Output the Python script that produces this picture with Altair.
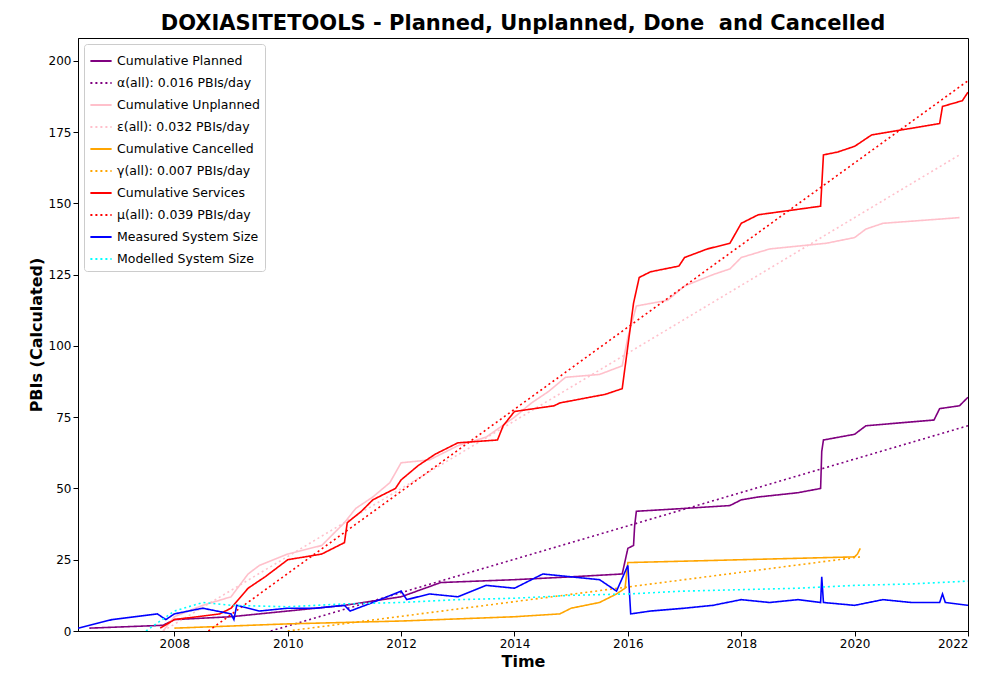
import altair as alt
import pandas as pd

# series as (year, value) points
planned_x = [2006.5, 2007.8, 2008.0, 2009.0, 2010.0, 2011.0, 2012.0, 2012.7, 2014.0, 2015.0, 2015.9, 2016.0, 2016.1, 2016.12, 2016.15, 2017.0, 2017.8, 2018.0, 2018.3, 2019.0, 2019.4, 2019.42, 2019.45, 2020.0, 2020.2, 2021.4, 2021.5, 2021.85, 2022.0]
planned_y = [1, 2, 4, 5, 7, 9, 12, 17, 18, 19, 20, 29, 30, 37, 42, 43, 44, 46, 47, 48.5, 50, 63, 67, 69, 72, 74, 78, 79, 82]

unplanned_x = [2007.8, 2008.0, 2008.5, 2009.0, 2009.3, 2009.5, 2010.0, 2010.6, 2011.0, 2011.2, 2011.5, 2011.8, 2012.0, 2012.5, 2013.0, 2013.5, 2014.0, 2014.3, 2014.6, 2014.9, 2015.5, 2015.9, 2016.0, 2016.15, 2016.7, 2017.0, 2017.5, 2017.8, 2018.0, 2018.5, 2019.5, 2020.0, 2020.2, 2020.5, 2021.85]
unplanned_y = [0, 5, 9, 12, 20, 23, 27, 30, 38, 43, 47, 52, 59, 60, 65, 68, 75, 80, 84, 89, 90, 93, 103, 114, 116, 121, 125, 127, 131, 134, 136, 138, 141, 143, 145]

cancelled_x = [2008.0, 2010.0, 2012.0, 2014.0, 2014.8, 2015.0, 2015.5, 2015.8, 2015.95, 2016.0, 2020.0, 2020.05, 2020.1]
cancelled_y = [1, 2.5, 3.5, 5, 6, 8, 10, 13, 15, 24, 26, 27, 29]

services_x = [2007.75, 2008.0, 2008.8, 2009.0, 2009.3, 2009.6, 2009.8, 2010.0, 2010.6, 2011.0, 2011.05, 2011.3, 2011.5, 2011.9, 2012.0, 2012.3, 2012.6, 2013.0, 2013.7, 2013.8, 2014.0, 2014.7, 2014.8, 2015.6, 2015.9, 2016.0, 2016.1, 2016.2, 2016.4, 2016.9, 2017.0, 2017.4, 2017.8, 2018.0, 2018.3, 2019.4, 2019.45, 2019.7, 2020.0, 2020.3, 2021.5, 2021.55, 2021.9, 2022.0]
services_y = [1, 4, 6, 8, 15, 19, 22, 25, 27, 31, 38, 42, 46, 50, 53, 58, 62, 66, 67, 72, 77, 79, 80, 83, 85, 100, 115, 124, 126, 128, 131, 134, 136, 143, 146, 149, 167, 168, 170, 174, 178, 184, 186, 189]

measured_x = [2006.3, 2006.9, 2007.7, 2007.85, 2008.0, 2008.5, 2009.0, 2009.05, 2009.1, 2009.5, 2010.0, 2010.5, 2011.0, 2011.1, 2011.5, 2012.0, 2012.1, 2012.5, 2013.0, 2013.5, 2014.0, 2014.5, 2015.0, 2015.5, 2015.8, 2016.0, 2016.05, 2016.4, 2017.0, 2017.5, 2018.0, 2018.5, 2019.0, 2019.4, 2019.42, 2019.45, 2020.0, 2020.5, 2021.0, 2021.5, 2021.55, 2021.6, 2022.0]
measured_y = [1, 4, 6, 4, 6, 8, 6, 4, 9, 7, 8, 8, 9, 7, 10, 14, 11, 13, 12, 16, 15, 20, 19, 18, 14, 23, 6, 7, 8, 9, 11, 10, 11, 10, 19, 10, 9, 11, 10, 10, 13, 10, 9]

modelled_x = [2007.5, 2008.0, 2008.5, 2009.0, 2010.0, 2011.0, 2012.0, 2013.0, 2014.0, 2015.0, 2016.0, 2017.0, 2018.0, 2019.0, 2020.0, 2021.0, 2022.0]
modelled_y = [0, 7, 10, 9, 8.5, 9.5, 10, 11, 11.5, 12.5, 13, 14, 14.5, 15, 16, 16.5, 17.5]

# fitted rate lines, endpoints only
alpha_x, alpha_y = [2009.7, 2022.0], [0, 72]
eps_x, eps_y = [2007.8, 2021.85], [0, 167]
gamma_x, gamma_y = [2010.0, 2020.1], [0, 26]
mu_x, mu_y = [2008.6, 2022.0], [0, 193]

names = ["Cumulative Planned", "α(all): 0.016 PBIs/day",
         "Cumulative Unplanned", "ε(all): 0.032 PBIs/day",
         "Cumulative Cancelled", "γ(all): 0.007 PBIs/day",
         "Cumulative Services", "μ(all): 0.039 PBIs/day",
         "Measured System Size", "Modelled System Size"]
colors = ["#800080", "#800080", "#ffc0cb", "#ffc0cb", "#ffa500", "#ffa500",
          "#ff0000", "#ff0000", "#0000ff", "#00ffff"]
dotted = [False, True, False, True, False, True, False, True, False, True]
series = [(planned_x, planned_y), (alpha_x, alpha_y), (unplanned_x, unplanned_y), (eps_x, eps_y),
          (cancelled_x, cancelled_y), (gamma_x, gamma_y), (services_x, services_y), (mu_x, mu_y),
          (measured_x, measured_y), (modelled_x, modelled_y)]

rows = []
for name, (xs, ys) in zip(names, series):
    for i, (x, y) in enumerate(zip(xs, ys)):
        rows.append({"series": name, "year": x, "value": y, "order": i})
df = pd.DataFrame(rows)

dash_range = [[2, 3] if d else [1, 0] for d in dotted]

chart = alt.Chart(df).mark_line(strokeWidth=1.6, clip=True).encode(
    x=alt.X("year:Q", title="Time", scale=alt.Scale(domain=[2006.3, 2022.0], nice=False),
            axis=alt.Axis(values=list(range(2008, 2023, 2)), format="d", grid=False)),
    y=alt.Y("value:Q", title="PBIs (Calculated)", scale=alt.Scale(domain=[0, 208], nice=False),
            axis=alt.Axis(values=list(range(0, 201, 25)), grid=False)),
    color=alt.Color("series:N", scale=alt.Scale(domain=names, range=colors), title=None,
                    legend=alt.Legend(orient="top-left", symbolType="stroke", symbolSize=450,
                                      labelFontSize=12.5, strokeColor="#cccccc", fillColor="white",
                                      padding=5, cornerRadius=3, symbolStrokeWidth=2,
                                      rowPadding=3, offset=6)),
    strokeDash=alt.StrokeDash("series:N", scale=alt.Scale(domain=names, range=dash_range),
                              title=None, legend=None),
    detail="series:N",
    order="order:Q",
).properties(
    width=890, height=593,
    padding={"left": 20, "top": 5, "right": 5, "bottom": 5},
    title=alt.Title("DOXIASITETOOLS - Planned, Unplanned, Done\u00a0 and Cancelled",
                    fontSize=21, fontWeight="bold", font="DejaVu Sans", offset=4),
).configure_axis(
    labelFontSize=12, titleFontSize=16, titleFontWeight="bold", labelFont="DejaVu Sans",
    titleFont="DejaVu Sans", domainColor="black", tickColor="black", labelColor="black",
).configure_legend(labelFont="DejaVu Sans").configure_view(stroke="black")

chart.save("out.html", embed_options={"renderer": "svg", "actions": False})
